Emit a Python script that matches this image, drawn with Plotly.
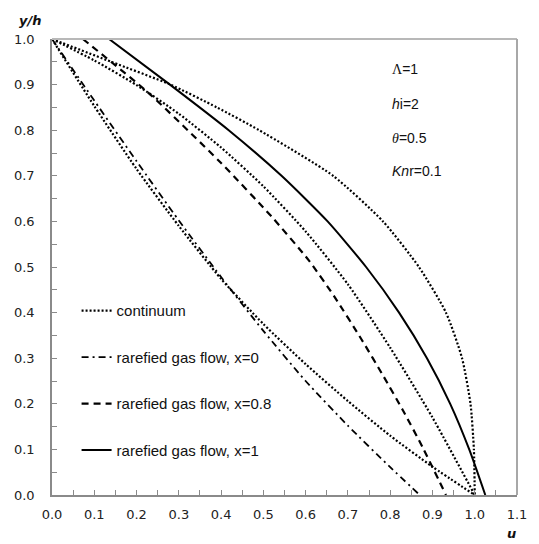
import plotly.graph_objects as go

# ---- data (u along x, y/h along y) ----
cont_a_u = [0.0, 0.14, 0.28, 0.39, 0.49, 0.665, 0.783, 0.868, 0.932, 0.97, 0.99, 0.998, 1.0]
cont_a_y = [1.0, 0.95, 0.9, 0.85, 0.8, 0.7, 0.6, 0.5, 0.4, 0.3, 0.2, 0.1, 0.0]

cont_b_u = [0.0, 0.1, 0.2, 0.3, 0.4, 0.5, 0.6, 0.7, 0.8, 0.9, 1.0]
cont_b_y = [1.0, 0.953, 0.899, 0.836, 0.762, 0.677, 0.578, 0.462, 0.323, 0.17, 0.0]

cont_c_u = [0.0, 0.1, 0.2, 0.3, 0.4, 0.5, 0.6, 0.7, 0.8, 0.9, 1.0]
cont_c_y = [1.0, 0.853, 0.715, 0.59, 0.474, 0.375, 0.287, 0.206, 0.13, 0.062, 0.0]

x0_u = [0.0, 0.1, 0.2, 0.3, 0.4, 0.5, 0.6, 0.7, 0.8, 0.87]
x0_y = [1.0, 0.865, 0.732, 0.602, 0.478, 0.36, 0.25, 0.152, 0.061, 0.0]

x08_u = [0.073, 0.228, 0.40, 0.52, 0.607, 0.668, 0.733, 0.785, 0.830, 0.876, 0.932]
x08_y = [1.0, 0.882, 0.728, 0.61, 0.515, 0.435, 0.34, 0.259, 0.186, 0.106, 0.0]

x1_u = [0.135, 0.279, 0.418, 0.543, 0.652, 0.743, 0.821, 0.887, 0.942, 0.987, 1.025]
x1_y = [1.0, 0.9, 0.8, 0.7, 0.6, 0.5, 0.4, 0.3, 0.2, 0.1, 0.0]

x_ticks = [0.0, 0.1, 0.2, 0.3, 0.4, 0.5, 0.6, 0.7, 0.8, 0.9, 1.0, 1.1]
y_ticks = [0.0, 0.1, 0.2, 0.3, 0.4, 0.5, 0.6, 0.7, 0.8, 0.9, 1.0]

SERIF = "font-family:'Liberation Serif', 'Times New Roman', serif"
params = [f"<span style=\"{SERIF}\">\u039b</span>=1",
          "<i>h</i>i=2",
          f"<span style=\"{SERIF}\"><i>\u03b8</i></span>=0.5",
          "<i>Kn</i>r=0.1"]
param_y = [0.934, 0.857, 0.783, 0.711]

LBL_FONT = "Liberation Sans, Arial, sans-serif"
TICK_FONT = "DejaVu Sans, Verdana, sans-serif"

fig = go.Figure()

DOT = "2px,2px"
for i, (u, y) in enumerate([(cont_a_u, cont_a_y), (cont_b_u, cont_b_y), (cont_c_u, cont_c_y)]):
    fig.add_trace(go.Scatter(x=u, y=y, mode="lines", name="continuum",
                             legendgroup="cont", showlegend=(i == 0),
                             line=dict(color="black", width=2.2, dash=DOT, shape="spline", smoothing=0.6)))

fig.add_trace(go.Scatter(x=x0_u, y=x0_y, mode="lines", name="rarefied gas flow, x=0",
                         legendgroup="x0",
                         line=dict(color="black", width=1.8, dash="7px,4px,2px,4px", shape="spline", smoothing=0.6)))
fig.add_trace(go.Scatter(x=x08_u, y=x08_y, mode="lines", name="rarefied gas flow, x=0.8",
                         legendgroup="x08",
                         line=dict(color="black", width=2.2, dash="7px,5px", shape="spline", smoothing=0.6)))
fig.add_trace(go.Scatter(x=x1_u, y=x1_y, mode="lines", name="rarefied gas flow, x=1",
                         legendgroup="x1",
                         line=dict(color="black", width=2, shape="spline", smoothing=0.6)))

AX = "#8a8a8a"
fig.update_xaxes(range=[0, 1.1], tickvals=x_ticks, tickformat=".1f",
                 ticks="inside", ticklen=5, tickcolor=AX, tickwidth=1,
                 minor=dict(dtick=0.05, ticks="inside", ticklen=5, tickcolor=AX, tickwidth=1),
                 showline=True, linecolor=AX, linewidth=1.5, showgrid=False, zeroline=False,
                 tickfont=dict(family=TICK_FONT, size=13, color="#222"), ticklabelstandoff=7)
fig.update_yaxes(range=[0, 1.0], tickvals=y_ticks, tickformat=".1f",
                 ticks="inside", ticklen=5, tickcolor=AX, tickwidth=1,
                 minor=dict(dtick=0.05, ticks="inside", ticklen=5, tickcolor=AX, tickwidth=1),
                 showline=True, linecolor=AX, linewidth=1.5, showgrid=False, zeroline=False,
                 tickfont=dict(family=TICK_FONT, size=13, color="#222"), ticklabelstandoff=13)

shapes = [
    dict(type="line", xref="paper", yref="paper", x0=0, x1=1, y0=1, y1=1,
         line=dict(color="#b8b8b8", width=2)),
    dict(type="line", xref="paper", yref="paper", x0=1, x1=1, y0=0, y1=1,
         line=dict(color="#a8a8a8", width=2)),
]

annotations = []
for t, yy in zip(params, param_y):
    annotations.append(dict(text=t, xref="paper", yref="y", x=(396 - 52) / 473, y=yy,
                            xanchor="left", yanchor="middle", showarrow=False,
                            font=dict(family=LBL_FONT, size=14, color="#111")))
annotations.append(dict(text="<b><i>y/h</i></b>", xref="paper", yref="paper", x=-0.075, y=1.0,
                        yshift=19, xanchor="left", yanchor="middle", showarrow=False,
                        font=dict(family=TICK_FONT, size=13, color="#111")))
annotations.append(dict(text="<b><i>u</i></b>", xref="paper", yref="paper", x=(519 - 52) / 473, y=0,
                        yshift=-38, xanchor="center", yanchor="middle", showarrow=False,
                        font=dict(family=TICK_FONT, size=13, color="#111")))

fig.update_layout(
    width=539, height=544,
    margin=dict(l=52, r=14, t=39, b=49),
    plot_bgcolor="white", paper_bgcolor="white",
    shapes=shapes, annotations=annotations,
    legend=dict(x=(77 - 52) / 473, y=0.44, xanchor="left", yanchor="top",
                bgcolor="rgba(0,0,0,0)", itemwidth=30, tracegroupgap=24,
                font=dict(family=LBL_FONT, size=15, color="#111")),
    showlegend=True,
)

fig.write_html("out.html")
